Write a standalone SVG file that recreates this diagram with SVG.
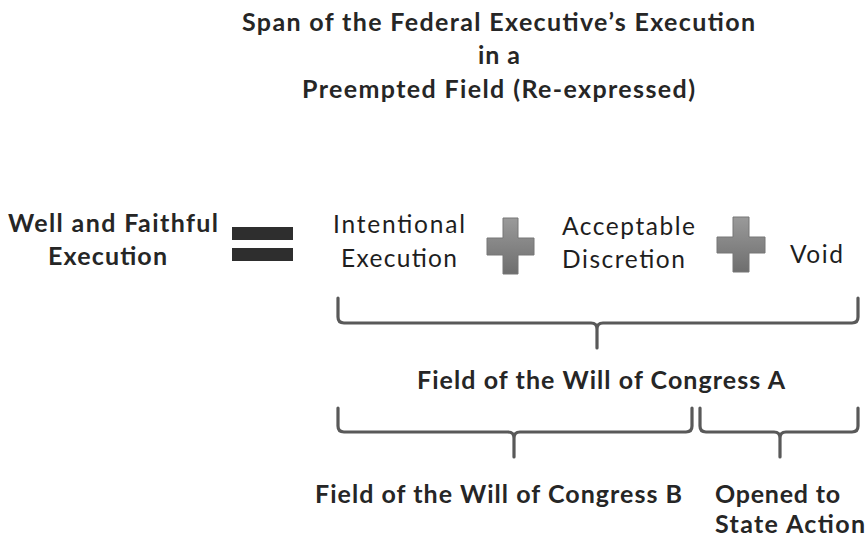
<svg xmlns="http://www.w3.org/2000/svg" width="868" height="541" viewBox="0 0 868 541">
<defs>
<linearGradient id="plusG" x1="0" y1="0" x2="0" y2="1">
<stop offset="0" stop-color="#9a9a9a"/>
<stop offset="1" stop-color="#6e6e6e"/>
</linearGradient>
<style>
.b{font-family:Lato,"Open Sans","Liberation Sans",sans-serif;font-weight:bold;fill:#262626;font-size:25px}
.t{font-size:25px}
.r{font-family:Lato,"Open Sans","Liberation Sans",sans-serif;font-weight:normal;fill:#1e1e1e;font-size:24.5px}
.br{fill:none;stroke:#595959;stroke-width:3.2;stroke-linecap:round;stroke-linejoin:round}
.eq{fill:#2e2e2e}
.plus{fill:url(#plusG);stroke:#777;stroke-width:1}
</style>
</defs>
<rect width="868" height="541" fill="#ffffff"/>
<g id="title">
<text class="b t" x="242" y="31" textLength="513" lengthAdjust="spacing">Span of the Federal Executive’s Execution</text>
<text class="b t" x="478" y="64" textLength="42" lengthAdjust="spacing">in a</text>
<text class="b t" x="302" y="98" textLength="393" lengthAdjust="spacing">Preempted Field (Re-expressed)</text>
</g>
<g id="well-faithful">
<text class="b" x="8" y="232" textLength="210" lengthAdjust="spacing">Well and Faithful</text>
<text class="b" x="48" y="265" textLength="119" lengthAdjust="spacing">Execution</text>
</g>
<g id="equals">
<rect class="eq" x="232" y="227" width="61" height="13"/>
<rect class="eq" x="232" y="248" width="61" height="13"/>
</g>
<g id="intentional">
<text class="r" x="333" y="233" textLength="132" lengthAdjust="spacing">Intentional</text>
<text class="r" x="341" y="267" textLength="116" lengthAdjust="spacing">Execution</text>
</g>
<g id="plus1">
<path class="plus" d="M503,218 H518 V238 H534 V255 H518 V274 H503 V255 H487 V238 H503 Z"/>
</g>
<g id="acceptable">
<text class="r" x="562" y="235" textLength="133" lengthAdjust="spacing">Acceptable</text>
<text class="r" x="562" y="268" textLength="123" lengthAdjust="spacing">Discretion</text>
</g>
<g id="plus2">
<path class="plus" d="M733,217 H749 V237 H765 V253 H749 V272 H733 V253 H717 V237 H733 Z"/>
</g>
<g id="void">
<text class="r" x="790" y="263" textLength="53" lengthAdjust="spacing">Void</text>
</g>
<g id="connectors">
<path class="br" d="M338,298 V317 Q338,323 344,323 H591 Q597,323 597,329 V348 M597,329 Q597,323 603,323 H852 Q858,323 858,317 V298"/>
<path class="br" d="M338,408 V426 Q338,432 344,432 H508 Q514,432 514,438 V457 M514,438 Q514,432 520,432 H686 Q692,432 692,426 V408"/>
<path class="br" d="M700,408 V426 Q700,432 706,432 H774 Q780,432 780,438 V457 M780,438 Q780,432 786,432 H852 Q858,432 858,426 V408"/>
</g>
<g id="congress-a">
<text class="b" x="417" y="389" textLength="368" lengthAdjust="spacing">Field of the Will of Congress A</text>
</g>
<g id="congress-b">
<text class="b" x="315" y="503" textLength="367" lengthAdjust="spacing">Field of the Will of Congress B</text>
</g>
<g id="state-action">
<text class="b" x="715" y="503" textLength="125" lengthAdjust="spacing">Opened to</text>
<text class="b" x="715" y="533" textLength="150" lengthAdjust="spacing">State Action</text>
</g>
</svg>
